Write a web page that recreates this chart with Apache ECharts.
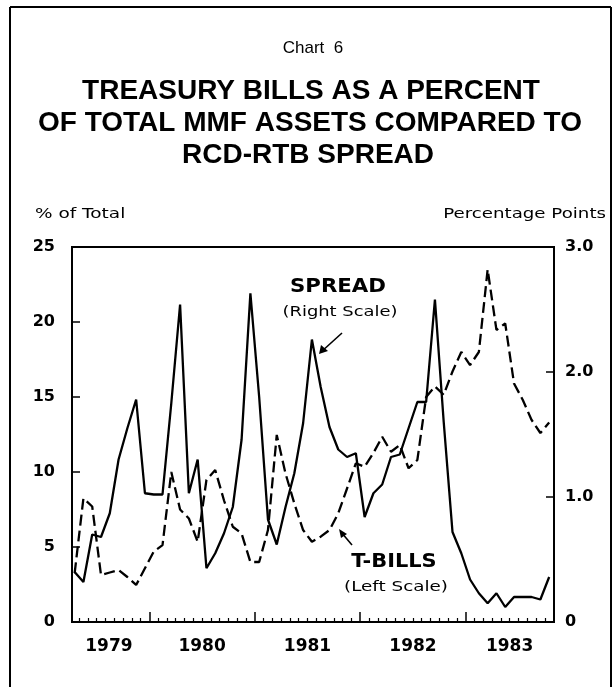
<!DOCTYPE html>
<html>
<head>
<meta charset="utf-8">
<script src="https://cdn.jsdelivr.net/npm/echarts@6/dist/echarts.min.js"></script>
<style>
html,body{margin:0;padding:0;background:#fff;}
#chart{width:613px;height:687px;}
</style>
</head>
<body>
<div id="chart"></div>
<script>
// ---- data (monthly, Apr 1979 – Oct 1983) ----
var months = [
 '1979-04','1979-05','1979-06','1979-07','1979-08','1979-09','1979-10','1979-11','1979-12',
 '1980-01','1980-02','1980-03','1980-04','1980-05','1980-06','1980-07','1980-08','1980-09','1980-10','1980-11','1980-12',
 '1981-01','1981-02','1981-03','1981-04','1981-05','1981-06','1981-07','1981-08','1981-09','1981-10','1981-11','1981-12',
 '1982-01','1982-02','1982-03','1982-04','1982-05','1982-06','1982-07','1982-08','1982-09','1982-10','1982-11','1982-12',
 '1983-01','1983-02','1983-03','1983-04','1983-05','1983-06','1983-07','1983-08','1983-09','1983-10'
];
// RCD-RTB spread, percentage points (right scale)
var spread = [
 0.40,0.32,0.70,0.68,0.87,1.30,1.55,1.78,1.03,
 1.02,1.02,1.75,2.54,1.03,1.30,0.43,0.55,0.71,0.92,1.46,2.63,
 1.80,0.82,0.62,0.92,1.19,1.59,2.26,1.88,1.56,1.38,1.32,1.35,
 0.84,1.03,1.10,1.32,1.34,1.55,1.76,1.76,2.58,1.60,0.72,0.55,
 0.34,0.23,0.15,0.23,0.12,0.20,0.20,0.20,0.18,0.36
];
// Treasury bills as % of total MMF assets (left scale)
var tbills = [
 3.25,8.25,7.70,3.13,3.30,3.47,3.00,2.47,3.58,
 4.69,5.13,10.0,7.50,6.90,5.35,9.47,10.13,8.10,6.35,5.90,4.00,
 4.00,6.13,12.47,9.90,7.90,6.13,5.35,5.69,6.13,7.25,8.90,10.58,
 10.35,11.27,12.35,11.35,11.80,10.25,10.80,15.00,15.70,15.15,16.70,18.00,
 17.13,18.00,23.50,19.47,19.90,15.90,14.80,13.47,12.60,13.30
];
var leftTicks = [0,5,10,15,20,25];
var rightTicks = [0,1,2,3];
var yearLabels = ['1979','1980','1981','1982','1983'];

// month position: months since Jan 1979, plotted mid-month
function mpos(s){ var p=s.split('-'); return (parseInt(p[0],10)-1979)*12 + parseInt(p[1],10)-1 + 0.5; }
var spreadData = months.map(function(m,i){ return [mpos(m), spread[i]]; });
var tbillData = months.map(function(m,i){ return [mpos(m), tbills[i]]; });

var minorTicks = []; for (var k=4;k<=57;k++){ if(k%12!==0) minorTicks.push(k); }
var majorTicks = [12,24,36,48];
var labelPos = [7.4,18,30,42,53];

var chart = echarts.init(document.getElementById('chart'), null, {renderer:'canvas'});
var numFont = 'DejaVu Sans';
chart.setOption({
  animation:false,
  backgroundColor:'#fff',
  grid:{left:72,right:59,top:247,bottom:65,show:true,borderColor:'#000',borderWidth:2,backgroundColor:'transparent'},
  xAxis:[
    {type:'value',min:3.2,max:58.05,position:'bottom',
     axisLine:{show:false},splitLine:{show:false},
     axisTick:{show:true,inside:true,length:4,lineStyle:{color:'#000',width:1.2},customValues:minorTicks},
     axisLabel:{show:true,customValues:labelPos,margin:16,color:'#000',fontFamily:numFont,fontWeight:'bold',fontSize:17,
       formatter:function(v){ return yearLabels[Math.floor(v/12)]; }}},
    {type:'value',min:3.2,max:58.05,position:'bottom',
     axisLine:{show:false},splitLine:{show:false},
     axisTick:{show:true,inside:true,length:10,lineStyle:{color:'#000',width:1.5},customValues:majorTicks},
     axisLabel:{show:false}}
  ],
  yAxis:[
    {type:'value',min:leftTicks[0],max:leftTicks[leftTicks.length-1],interval:5,position:'left',
     axisLine:{show:false},splitLine:{show:false},
     axisTick:{show:true,inside:true,length:8,lineStyle:{color:'#000',width:1.5}},
     axisLabel:{color:'#000',fontFamily:numFont,fontWeight:'bold',fontSize:16,margin:17}},
    {type:'value',min:rightTicks[0],max:rightTicks[rightTicks.length-1],interval:1,position:'right',
     axisLine:{show:false},splitLine:{show:false},
     axisTick:{show:true,inside:true,length:8,lineStyle:{color:'#000',width:1.5}},
     axisLabel:{color:'#000',fontFamily:numFont,fontWeight:'bold',fontSize:16,margin:11,
       formatter:function(v){ return v===0?'0':v.toFixed(1); }}}
  ],
  series:[
    {name:'SPREAD',type:'line',xAxisIndex:0,yAxisIndex:1,data:spreadData,symbol:'none',
     lineStyle:{color:'#000',width:2.3},z:3},
    {name:'T-BILLS',type:'line',xAxisIndex:0,yAxisIndex:0,data:tbillData,symbol:'none',
     lineStyle:{color:'#000',width:2.3,type:[11,5]},z:2}
  ],
  graphic:[
    // outer frame
    {type:'line',shape:{x1:10,y1:7,x2:10,y2:687},style:{stroke:'#000',lineWidth:2}},
    {type:'line',shape:{x1:10,y1:7,x2:611,y2:7},style:{stroke:'#000',lineWidth:2}},
    {type:'line',shape:{x1:611,y1:7,x2:611,y2:687},style:{stroke:'#000',lineWidth:2}},
    // titles
    {type:'text',x:313,y:48,style:{text:'Chart  6',font:'17px "Liberation Sans"',fill:'#000',textAlign:'center',textVerticalAlign:'middle'}},
    {type:'text',x:311,y:91,style:{text:'TREASURY BILLS AS A PERCENT',font:'bold 28px "Liberation Sans"',fill:'#000',textAlign:'center',textVerticalAlign:'middle'}},
    {type:'text',x:310,y:123,style:{text:'OF TOTAL MMF ASSETS COMPARED TO',font:'bold 28px "Liberation Sans"',fill:'#000',textAlign:'center',textVerticalAlign:'middle'}},
    {type:'text',x:308,y:155,style:{text:'RCD-RTB SPREAD',font:'bold 28px "Liberation Sans"',fill:'#000',textAlign:'center',textVerticalAlign:'middle'}},
    // axis names
    {type:'text',x:35,y:214,scaleX:1.32,style:{text:'% of Total',font:'14px "DejaVu Sans"',fill:'#000',textAlign:'left',textVerticalAlign:'middle'}},
    {type:'text',x:606,y:214,scaleX:1.30,style:{text:'Percentage Points',font:'14px "DejaVu Sans"',fill:'#000',textAlign:'right',textVerticalAlign:'middle'}},
    // annotations
    {type:'text',x:338,y:287,scaleX:1.12,style:{text:'SPREAD',font:'bold 19px "DejaVu Sans"',fill:'#000',textAlign:'center',textVerticalAlign:'middle'}},
    {type:'text',x:340,y:312,scaleX:1.28,style:{text:'(Right Scale)',font:'14px "DejaVu Sans"',fill:'#000',textAlign:'center',textVerticalAlign:'middle'}},
    {type:'text',x:394,y:562,scaleX:1.1,style:{text:'T-BILLS',font:'bold 19px "DejaVu Sans"',fill:'#000',textAlign:'center',textVerticalAlign:'middle'}},
    {type:'text',x:396,y:587,scaleX:1.31,style:{text:'(Left Scale)',font:'14px "DejaVu Sans"',fill:'#000',textAlign:'center',textVerticalAlign:'middle'}},
    // arrows
    {type:'line',shape:{x1:342,y1:333,x2:321,y2:352},style:{stroke:'#000',lineWidth:1.6}},
    {type:'polygon',shape:{points:[[319,354],[321,345],[328,351]]},style:{fill:'#000'}},
    {type:'line',shape:{x1:352,y1:545,x2:341,y2:532},style:{stroke:'#000',lineWidth:1.6}},
    {type:'polygon',shape:{points:[[339,529],[347,534],[341,538]]},style:{fill:'#000'}}
  ]
});
</script>
</body>
</html>
